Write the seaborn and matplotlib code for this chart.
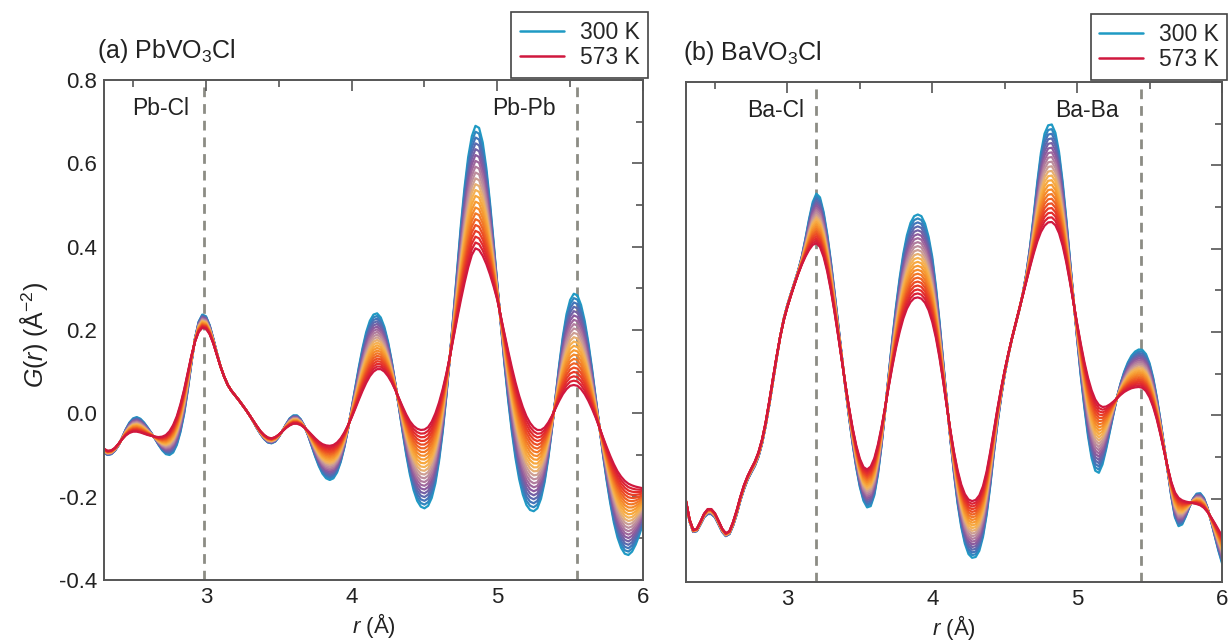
import numpy as np
import pandas as pd
import matplotlib
matplotlib.use("Agg")
import matplotlib.pyplot as plt
from matplotlib.colors import LinearSegmentedColormap
from matplotlib.lines import Line2D
from matplotlib.ticker import MultipleLocator
import seaborn as sns

# ---- data -------------------------------------------------------------
# r grid in Angstrom (2.300 ... 6.000, 0.025 step); one row below = 0.1 A
r_values = np.round(np.arange(2.30, 6.0001, 0.025), 3)

temperatures = [300, 313, 326, 339, 352, 365, 378, 391, 404, 417, 430,
                443, 456, 469, 482, 495, 508, 521, 534, 547, 560, 573]

pb_300 = [
    -0.095, -0.100, -0.098, -0.090,
    -0.077, -0.058, -0.038, -0.022,
    -0.012, -0.009, -0.013, -0.022,
    -0.034, -0.047, -0.061, -0.076,
    -0.089, -0.098, -0.100, -0.094,
    -0.076, -0.045, -0.002, 0.055,
    0.120, 0.180, 0.220, 0.237,
    0.233, 0.212, 0.180, 0.145,
    0.113, 0.088, 0.068, 0.054,
    0.043, 0.032, 0.020, 0.008,
    -0.005, -0.020, -0.036, -0.050,
    -0.062, -0.070, -0.072, -0.068,
    -0.057, -0.042, -0.026, -0.012,
    -0.005, -0.005, -0.014, -0.030,
    -0.052, -0.078, -0.104, -0.127,
    -0.145, -0.156, -0.160, -0.156,
    -0.142, -0.117, -0.082, -0.038,
    0.012, 0.063, 0.112, 0.157,
    0.195, 0.222, 0.237, 0.240,
    0.230, 0.207, 0.172, 0.126,
    0.072, 0.014, -0.045, -0.100,
    -0.147, -0.184, -0.210, -0.224,
    -0.228, -0.222, -0.203, -0.168,
    -0.115, -0.045, 0.040, 0.138,
    0.243, 0.350, 0.452, 0.542,
    0.615, 0.665, 0.690, 0.685,
    0.650, 0.588, 0.505, 0.410,
    0.310, 0.210, 0.115, 0.030,
    -0.045, -0.108, -0.158, -0.195,
    -0.220, -0.232, -0.235, -0.228,
    -0.205, -0.165, -0.108, -0.038,
    0.040, 0.117, 0.185, 0.238,
    0.272, 0.287, 0.283, 0.260,
    0.222, 0.170, 0.108, 0.040,
    -0.030, -0.098, -0.160, -0.215,
    -0.262, -0.298, -0.323, -0.337,
    -0.340, -0.332, -0.315, -0.292,
    -0.265]

pb_573 = [
    -0.085, -0.090, -0.089, -0.083,
    -0.073, -0.062, -0.053, -0.047,
    -0.044, -0.044, -0.046, -0.049,
    -0.052, -0.054, -0.056, -0.057,
    -0.056, -0.052, -0.043, -0.028,
    -0.007, 0.022, 0.057, 0.098,
    0.138, 0.172, 0.195, 0.205,
    0.203, 0.190, 0.168, 0.140,
    0.112, 0.088, 0.068, 0.054,
    0.043, 0.032, 0.020, 0.008,
    -0.005, -0.018, -0.031, -0.043,
    -0.052, -0.058, -0.060, -0.057,
    -0.051, -0.043, -0.035, -0.029,
    -0.025, -0.025, -0.028, -0.034,
    -0.042, -0.051, -0.060, -0.068,
    -0.074, -0.077, -0.078, -0.076,
    -0.070, -0.060, -0.046, -0.029,
    -0.010, 0.011, 0.033, 0.054,
    0.073, 0.089, 0.100, 0.106,
    0.106, 0.100, 0.089, 0.074,
    0.056, 0.036, 0.016, -0.003,
    -0.019, -0.030, -0.037, -0.040,
    -0.039, -0.033, -0.020, 0.000,
    0.026, 0.058, 0.095, 0.137,
    0.183, 0.228, 0.272, 0.313,
    0.350, 0.380, 0.396, 0.392,
    0.378, 0.358, 0.333, 0.304,
    0.272, 0.231, 0.190, 0.149,
    0.110, 0.074, 0.042, 0.015,
    -0.007, -0.023, -0.034, -0.040,
    -0.040, -0.034, -0.022, -0.006,
    0.012, 0.030, 0.046, 0.058,
    0.066, 0.068, 0.066, 0.058,
    0.046, 0.030, 0.011, -0.010,
    -0.033, -0.057, -0.080, -0.102,
    -0.122, -0.139, -0.152, -0.162,
    -0.169, -0.173, -0.176, -0.178,
    -0.180]

ba_300 = [
    -0.210, -0.255, -0.280, -0.278,
    -0.262, -0.245, -0.237, -0.237,
    -0.245, -0.262, -0.280, -0.290,
    -0.285, -0.265, -0.238, -0.205,
    -0.178, -0.155, -0.138, -0.122,
    -0.100, -0.068, -0.025, 0.025,
    0.080, 0.135, 0.188, 0.232,
    0.265, 0.293, 0.320, 0.348,
    0.382, 0.425, 0.472, 0.512,
    0.532, 0.523, 0.488, 0.435,
    0.370, 0.297, 0.220, 0.143,
    0.068, -0.003, -0.068, -0.125,
    -0.172, -0.205, -0.221, -0.218,
    -0.192, -0.142, -0.072, 0.012,
    0.100, 0.185, 0.262, 0.330,
    0.388, 0.432, 0.462, 0.478,
    0.482, 0.478, 0.460, 0.428,
    0.380, 0.310, 0.225, 0.130,
    0.035, -0.058, -0.140, -0.212,
    -0.268, -0.308, -0.333, -0.342,
    -0.340, -0.325, -0.292, -0.240,
    -0.170, -0.092, -0.020, 0.043,
    0.098, 0.144, 0.184, 0.218,
    0.252, 0.292, 0.342, 0.405,
    0.480, 0.560, 0.630, 0.676,
    0.696, 0.698, 0.678, 0.632,
    0.560, 0.472, 0.376, 0.278,
    0.183, 0.095, 0.018, -0.050,
    -0.103, -0.133, -0.138, -0.118,
    -0.082, -0.040, 0.003, 0.043,
    0.077, 0.105, 0.127, 0.143,
    0.153, 0.158, 0.157, 0.147,
    0.125, 0.090, 0.043, -0.012,
    -0.072, -0.133, -0.195, -0.245,
    -0.266, -0.262, -0.243, -0.220,
    -0.200, -0.188, -0.187, -0.198,
    -0.222, -0.255, -0.290, -0.325,
    -0.355]

ba_573 = [
    -0.205, -0.250, -0.275, -0.272,
    -0.255, -0.236, -0.225, -0.225,
    -0.235, -0.253, -0.272, -0.283,
    -0.278, -0.256, -0.228, -0.196,
    -0.168, -0.146, -0.128, -0.111,
    -0.089, -0.058, -0.017, 0.034,
    0.088, 0.140, 0.188, 0.228,
    0.260, 0.288, 0.315, 0.340,
    0.362, 0.381, 0.397, 0.409,
    0.413, 0.404, 0.380, 0.345,
    0.300, 0.248, 0.192, 0.133,
    0.075, 0.020, -0.030, -0.072,
    -0.104, -0.124, -0.130, -0.123,
    -0.103, -0.070, -0.028, 0.020,
    0.070, 0.118, 0.162, 0.200,
    0.232, 0.256, 0.272, 0.281,
    0.283, 0.280, 0.270, 0.252,
    0.224, 0.186, 0.138, 0.082,
    0.022, -0.036, -0.088, -0.132,
    -0.166, -0.189, -0.202, -0.206,
    -0.203, -0.192, -0.170, -0.135,
    -0.088, -0.036, 0.016, 0.064,
    0.108, 0.148, 0.185, 0.220,
    0.254, 0.288, 0.322, 0.356,
    0.388, 0.417, 0.440, 0.455,
    0.463, 0.464, 0.456, 0.437,
    0.407, 0.367, 0.320, 0.270,
    0.220, 0.172, 0.128, 0.090,
    0.060, 0.038, 0.025, 0.020,
    0.021, 0.026, 0.033, 0.041,
    0.049, 0.056, 0.061, 0.065,
    0.067, 0.068, 0.066, 0.058,
    0.043, 0.020, -0.010, -0.046,
    -0.086, -0.125, -0.160, -0.185,
    -0.198, -0.204, -0.207, -0.209,
    -0.211, -0.213, -0.216, -0.222,
    -0.232, -0.245, -0.259, -0.274,
    -0.290]

panel_titles = ["(a) PbVO$_3$Cl", "(b) BaVO$_3$Cl"]
# (label, marker line position, label x position)
bond_labels_a = [("Pb-Cl", 2.99, 2.69), ("Pb-Pb", 5.55, 5.18)]
bond_labels_b = [("Ba-Cl", 3.20, 2.92), ("Ba-Ba", 5.44, 5.07)]

for series in (pb_300, pb_573, ba_300, ba_573):
    assert len(series) == len(r_values)

# ---- style ------------------------------------------------------------
sns.set_style("white")
plt.rcParams["font.family"] = ["Liberation Sans", "DejaVu Sans"]
plt.rcParams["mathtext.fontset"] = "custom"
plt.rcParams["mathtext.rm"] = "Liberation Sans"
plt.rcParams["mathtext.it"] = "Liberation Sans:italic"
plt.rcParams["mathtext.bf"] = "Liberation Sans:bold"

TEXT = "#222222"
cmap = LinearSegmentedColormap.from_list(
    "heat", ["#1f9ac4", "#3d78bc", "#6a64a8", "#92599c", "#b07c9e", "#c79c9c",
             "#f4b65e", "#f7a63a", "#f58a2a", "#f06a24", "#ea4424", "#e22a2e", "#d0183e"])
palette = [cmap(i / (len(temperatures) - 1)) for i in range(len(temperatures))]


def long_table(g_cold, g_hot):
    g_cold = np.asarray(g_cold)
    g_hot = np.asarray(g_hot)
    rows = []
    for t in temperatures:
        w = (t - temperatures[0]) / (temperatures[-1] - temperatures[0])
        g = (1 - w) * g_cold + w * g_hot
        rows.append(pd.DataFrame({"r": r_values, "G": g, "T": t}))
    return pd.concat(rows, ignore_index=True)


fig = plt.figure(figsize=(12.32, 6.42), dpi=100)
ax_a = fig.add_axes([0.0844, 0.0966, 0.4375, 0.7788])
ax_b = fig.add_axes([0.5568, 0.0935, 0.4351, 0.7788])

panels = [(ax_a, long_table(pb_300, pb_573), bond_labels_a),
          (ax_b, long_table(ba_300, ba_573), bond_labels_b)]

for i, (ax, df, labels) in enumerate(panels):
    sns.lineplot(data=df, x="r", y="G", hue="T", palette=palette, legend=False,
                 estimator=None, sort=False, linewidth=1.6, ax=ax)
    ax.set_xlim(2.3, 6.0)
    ax.set_ylim(-0.4, 0.8)
    for name, pos, tx in labels:
        ax.axvline(pos, color="#8c8c84", linestyle=(0, (3.5, 2.5)), linewidth=2.0, zorder=0)
        ax.text(tx, 0.731, name, fontsize=16.5, ha="center", va="center", color=TEXT)

    ax.xaxis.set_major_locator(MultipleLocator(1))
    ax.xaxis.set_minor_locator(MultipleLocator(0.5))
    ax.yaxis.set_major_locator(MultipleLocator(0.2))
    ax.yaxis.set_minor_locator(MultipleLocator(0.1))
    ax.tick_params(which="both", direction="in", top=True, right=True,
                   color="#555555", width=1.2, labelsize=16, labelcolor=TEXT, pad=5)
    ax.tick_params(which="major", length=8)
    ax.tick_params(which="minor", length=5)
    for sp in ax.spines.values():
        sp.set_color("#555555")
        sp.set_linewidth(1.4)
    ax.set_xlabel("$r$ (Å)", fontsize=16, labelpad=2, color=TEXT)
    ax.text(-0.013 if i == 0 else -0.006, 1.058, panel_titles[i], transform=ax.transAxes,
            fontsize=18, ha="left", va="center", color=TEXT)

    handles = [Line2D([], [], color=palette[0], linewidth=1.8),
               Line2D([], [], color=palette[-1], linewidth=1.8)]
    leg = ax.legend(handles, ["300 K", "573 K"], loc="upper right",
                    bbox_to_anchor=(1.01, 1.136), frameon=True, fancybox=False,
                    edgecolor="#444444", framealpha=1, fontsize=16.5,
                    handlelength=1.9, handletextpad=0.7, borderpad=0.38,
                    labelspacing=0.12, borderaxespad=0.0)
    leg.get_frame().set_linewidth(1.2)

ax_a.set_yticks([-0.4, -0.2, 0.0, 0.2, 0.4, 0.6, 0.8])
ax_a.set_yticklabels(["-0.4", "-0.2", "0.0", "0.2", "0.4", "0.6", "0.8"])
ax_b.set_yticklabels([])
ax_b.set_ylabel("")
ax_a.set_ylabel("$G$($r$) (Å$^{-2}$)", fontsize=18, color=TEXT)
ax_a.yaxis.set_label_coords(-0.100, 0.49)

fig.savefig("out.png", dpi=100)
